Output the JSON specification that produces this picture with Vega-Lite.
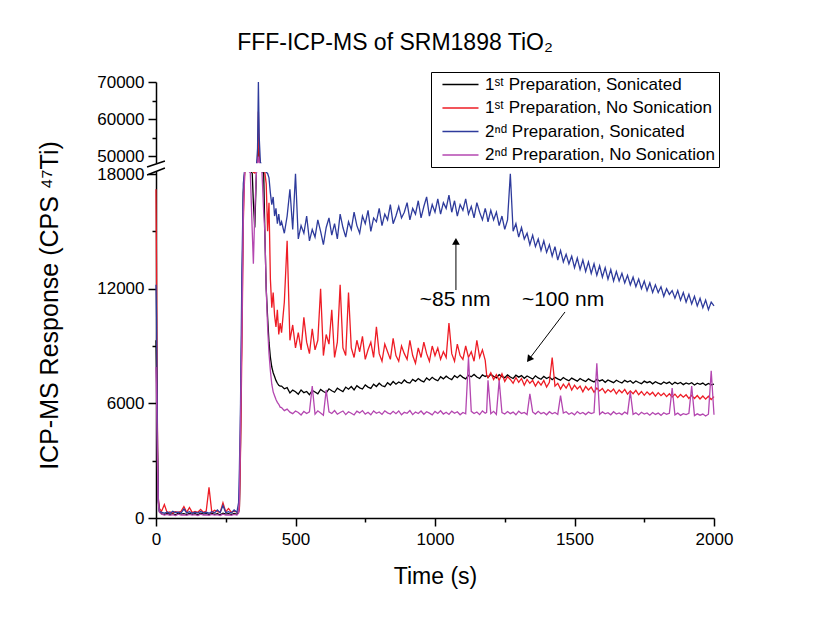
{
"$schema": "https://vega.github.io/schema/vega-lite/v6.json",
"autosize": "none",
"width": 558,
"height": 436,
"padding": {"left": 156, "top": 82, "right": 101, "bottom": 99},
"background": "white",
"config": {
 "view": {"stroke": null},
 "font": "Liberation Sans",
 "axis": {"domainColor": "#000", "domainWidth": 1.5, "tickColor": "#000", "tickWidth": 1.5, "labelColor": "#000", "labelFontSize": 17, "labelFont": "Liberation Sans", "titleFont": "Liberation Sans", "titleFontSize": 23, "titleFontWeight": "normal", "titleColor": "#000", "grid": false}
},
"title": {"text": "FFF-ICP-MS of SRM1898 TiO₂", "fontSize": 23, "font": "Liberation Sans", "fontWeight": "normal", "color": "#000", "anchor": "middle", "dx": -40, "offset": 17},
"layer": [
 {
 "data": {"values": [
{"t":0,"k":9300,"r":17200,"b":12200,"m":7900},
{"t":2,"k":7500,"r":13000,"b":10500,"m":6500},
{"t":5,"k":3500,"r":5000,"b":4500,"m":3000},
{"t":8,"k":900,"r":1100,"b":1000,"m":800},
{"t":12,"k":350,"r":500,"b":350,"m":300},
{"t":20,"k":220,"r":350,"b":300,"m":200},
{"t":30,"k":180,"r":700,"b":250,"m":150},
{"t":40,"k":240,"r":280,"b":320,"m":190},
{"t":50,"k":190,"r":320,"b":240,"m":140},
{"t":60,"k":230,"r":260,"b":350,"m":180},
{"t":70,"k":170,"r":330,"b":280,"m":130},
{"t":80,"k":250,"r":290,"b":310,"m":200},
{"t":90,"k":200,"r":350,"b":260,"m":150},
{"t":100,"k":230,"r":600,"b":480,"m":170},
{"t":110,"k":180,"r":300,"b":270,"m":140},
{"t":120,"k":240,"r":550,"b":330,"m":190},
{"t":130,"k":190,"r":280,"b":250,"m":150},
{"t":140,"k":220,"r":340,"b":310,"m":180},
{"t":150,"k":170,"r":300,"b":260,"m":130},
{"t":160,"k":250,"r":450,"b":340,"m":200},
{"t":170,"k":200,"r":290,"b":270,"m":150},
{"t":180,"k":230,"r":360,"b":300,"m":170},
{"t":190,"k":180,"r":1600,"b":250,"m":140},
{"t":200,"k":240,"r":300,"b":330,"m":190},
{"t":210,"k":190,"r":400,"b":270,"m":150},
{"t":220,"k":220,"r":330,"b":420,"m":180},
{"t":230,"k":170,"r":290,"b":280,"m":130},
{"t":240,"k":250,"r":800,"b":650,"m":200},
{"t":250,"k":200,"r":320,"b":280,"m":150},
{"t":260,"k":230,"r":500,"b":330,"m":170},
{"t":270,"k":180,"r":300,"b":260,"m":140},
{"t":280,"k":240,"r":360,"b":420,"m":190},
{"t":290,"k":190,"r":320,"b":300,"m":150},
{"t":296,"k":300,"r":320,"b":800,"m":260},
{"t":299,"k":600,"r":500,"b":2600,"m":900},
{"t":303,"k":4000,"r":3500,"b":6000,"m":5000},
{"t":308,"k":11000,"r":9000,"b":13000,"m":10000},
{"t":313,"k":17000,"r":15500,"b":17500,"m":16000},
{"t":318,"k":24000,"r":22000,"b":26000,"m":24000},
{"t":328,"k":28000,"r":26000,"b":29000,"m":25000},
{"t":338,"k":25000,"r":27000,"b":28000,"m":20000},
{"t":345,"k":19000,"r":24000,"b":26000,"m":15000},
{"t":349,"k":16500,"r":21000,"b":24000,"m":13300},
{"t":354,"k":15200,"r":19500,"b":23000,"m":16000},
{"t":360,"k":22000,"r":26000,"b":30000,"m":21000},
{"t":364,"k":40000,"r":45000,"b":52000,"m":35000},
{"t":367,"k":56000,"r":62000,"b":70000,"m":49000},
{"t":370,"k":45000,"r":50000,"b":55000,"m":40000},
{"t":374,"k":30000,"r":35000,"b":40000,"m":28000},
{"t":380,"k":24000,"r":28000,"b":30000,"m":20000},
{"t":386,"k":19000,"r":24000,"b":26000,"m":16000},
{"t":390,"k":15000,"r":21000,"b":24000,"m":15000},
{"t":395,"k":12000,"r":17500,"b":21000,"m":12000},
{"t":400,"k":10500,"r":15000,"b":19000,"m":10000},
{"t":405,"k":9200,"r":16500,"b":17800,"m":8600},
{"t":410,"k":8400,"r":12500,"b":17000,"m":7700},
{"t":415,"k":7900,"r":11000,"b":16400,"m":7000},
{"t":420,"k":7600,"r":11800,"b":16800,"m":6600},
{"t":425,"k":7400,"r":10600,"b":15800,"m":6400},
{"t":430,"k":7200,"r":10000,"b":16200,"m":6200},
{"t":435,"k":7050,"r":10900,"b":15400,"m":6050},
{"t":440,"k":6950,"r":9600,"b":15900,"m":5950},
{"t":445,"k":6900,"r":10200,"b":15300,"m":5800},
{"t":450,"k":6900,"r":9700,"b":15500,"m":5780},
{"t":460,"k":6760,"r":11300,"b":14900,"m":5620},
{"t":470,"k":6820,"r":14500,"b":15800,"m":5700},
{"t":480,"k":6540,"r":9300,"b":17200,"m":5540},
{"t":490,"k":6690,"r":10100,"b":15100,"m":5460},
{"t":500,"k":6610,"r":8900,"b":18400,"m":5600},
{"t":510,"k":6480,"r":9700,"b":14600,"m":5520},
{"t":520,"k":6700,"r":8800,"b":15300,"m":5390},
{"t":530,"k":6560,"r":10500,"b":14900,"m":5580},
{"t":540,"k":6620,"r":9200,"b":15800,"m":5470},
{"t":550,"k":6450,"r":8600,"b":14500,"m":5550},
{"t":560,"k":6680,"r":9900,"b":15100,"m":6900},
{"t":570,"k":6590,"r":8800,"b":14700,"m":5430},
{"t":580,"k":6500,"r":9300,"b":15600,"m":5610},
{"t":590,"k":6730,"r":12000,"b":15000,"m":5500},
{"t":600,"k":6620,"r":8500,"b":14300,"m":5380},
{"t":610,"k":6540,"r":9600,"b":15200,"m":6700},
{"t":620,"k":6760,"r":9100,"b":15700,"m":5560},
{"t":630,"k":6660,"r":10900,"b":14800,"m":5470},
{"t":640,"k":6580,"r":8400,"b":15400,"m":5620},
{"t":650,"k":6790,"r":9200,"b":14600,"m":5430},
{"t":660,"k":6700,"r":12200,"b":15900,"m":5520},
{"t":670,"k":6610,"r":8900,"b":15200,"m":5600},
{"t":680,"k":6850,"r":8500,"b":14700,"m":5410},
{"t":690,"k":6740,"r":11800,"b":15500,"m":5560},
{"t":700,"k":6880,"r":8900,"b":15100,"m":5480},
{"t":710,"k":6700,"r":8400,"b":16000,"m":5390},
{"t":720,"k":6920,"r":9300,"b":15300,"m":5590},
{"t":730,"k":6810,"r":8700,"b":14900,"m":5500},
{"t":740,"k":6750,"r":9500,"b":15800,"m":5620},
{"t":750,"k":6960,"r":8300,"b":15400,"m":5440},
{"t":760,"k":6850,"r":8800,"b":16100,"m":5530},
{"t":770,"k":6780,"r":9200,"b":15000,"m":5400},
{"t":780,"k":7000,"r":8400,"b":15700,"m":5600},
{"t":790,"k":6880,"r":10000,"b":15500,"m":5480},
{"t":800,"k":7050,"r":8600,"b":16200,"m":5550},
{"t":810,"k":6920,"r":8200,"b":15300,"m":5420},
{"t":820,"k":6870,"r":9100,"b":15900,"m":5610},
{"t":830,"k":7080,"r":8700,"b":15600,"m":5500},
{"t":840,"k":6960,"r":8300,"b":16400,"m":5440},
{"t":850,"k":7140,"r":9400,"b":15400,"m":5580},
{"t":860,"k":7000,"r":8500,"b":15800,"m":5460},
{"t":870,"k":7120,"r":8200,"b":16300,"m":5600},
{"t":880,"k":7040,"r":9000,"b":15700,"m":5400},
{"t":890,"k":7220,"r":8600,"b":16000,"m":5530},
{"t":900,"k":7100,"r":8300,"b":16500,"m":5480},
{"t":910,"k":7060,"r":9300,"b":15600,"m":5620},
{"t":920,"k":7250,"r":8500,"b":16200,"m":5410},
{"t":930,"k":7150,"r":8100,"b":15900,"m":5550},
{"t":940,"k":7300,"r":8900,"b":16600,"m":5470},
{"t":950,"k":7190,"r":8400,"b":15700,"m":5600},
{"t":960,"k":7120,"r":9200,"b":16300,"m":5430},
{"t":970,"k":7330,"r":8600,"b":16800,"m":5560},
{"t":980,"k":7210,"r":8200,"b":15800,"m":5490},
{"t":990,"k":7360,"r":9000,"b":16400,"m":5400},
{"t":1000,"k":7250,"r":8500,"b":16000,"m":5580},
{"t":1010,"k":7180,"r":8900,"b":16700,"m":5470},
{"t":1020,"k":7390,"r":8300,"b":15900,"m":5610},
{"t":1030,"k":7280,"r":8700,"b":16500,"m":5440},
{"t":1040,"k":7420,"r":8400,"b":16200,"m":5530},
{"t":1050,"k":7310,"r":10200,"b":16900,"m":5420},
{"t":1060,"k":7240,"r":8600,"b":16000,"m":5590},
{"t":1070,"k":7450,"r":8200,"b":16600,"m":5480},
{"t":1080,"k":7340,"r":9100,"b":15800,"m":5560},
{"t":1090,"k":7480,"r":8500,"b":16400,"m":5400},
{"t":1100,"k":7360,"r":8300,"b":16100,"m":5520},
{"t":1110,"k":7280,"r":9000,"b":16700,"m":5450},
{"t":1120,"k":7470,"r":8400,"b":15900,"m":8400},
{"t":1130,"k":7390,"r":8700,"b":16300,"m":5580},
{"t":1140,"k":7510,"r":8200,"b":15700,"m":5470},
{"t":1150,"k":7380,"r":9300,"b":16500,"m":5550},
{"t":1160,"k":7300,"r":8400,"b":16000,"m":5410},
{"t":1170,"k":7490,"r":8800,"b":15600,"m":5600},
{"t":1180,"k":7400,"r":8250,"b":16200,"m":5480},
{"t":1185,"k":7460,"r":7500,"b":15900,"m":5530},
{"t":1190,"k":7350,"r":7350,"b":15500,"m":7200},
{"t":1200,"k":7520,"r":7600,"b":16100,"m":5460},
{"t":1210,"k":7420,"r":7250,"b":15600,"m":5580},
{"t":1220,"k":7330,"r":7500,"b":16000,"m":5420},
{"t":1230,"k":7500,"r":7200,"b":15300,"m":7200},
{"t":1240,"k":7400,"r":7550,"b":15800,"m":5510},
{"t":1250,"k":7340,"r":7150,"b":15100,"m":5440},
{"t":1260,"k":7490,"r":7400,"b":15600,"m":5570},
{"t":1270,"k":7380,"r":7250,"b":18300,"m":5460},
{"t":1280,"k":7300,"r":7050,"b":15000,"m":5540},
{"t":1290,"k":7470,"r":7350,"b":15400,"m":5400},
{"t":1300,"k":7370,"r":7100,"b":14700,"m":5590},
{"t":1310,"k":7450,"r":7300,"b":15200,"m":5470},
{"t":1320,"k":7310,"r":6950,"b":14600,"m":5520},
{"t":1330,"k":7430,"r":7250,"b":14900,"m":5410},
{"t":1340,"k":7350,"r":7050,"b":14300,"m":6500},
{"t":1350,"k":7270,"r":7200,"b":14800,"m":5550},
{"t":1360,"k":7440,"r":6900,"b":14200,"m":5440},
{"t":1370,"k":7330,"r":7150,"b":14600,"m":5580},
{"t":1380,"k":7260,"r":6950,"b":14000,"m":5460},
{"t":1390,"k":7410,"r":7200,"b":14500,"m":5520},
{"t":1400,"k":7300,"r":6850,"b":13900,"m":5400},
{"t":1410,"k":7380,"r":7100,"b":14300,"m":5560},
{"t":1420,"k":7240,"r":8400,"b":13700,"m":5450},
{"t":1430,"k":7360,"r":6900,"b":14200,"m":5520},
{"t":1440,"k":7280,"r":7050,"b":13500,"m":5420},
{"t":1450,"k":7210,"r":6750,"b":14000,"m":6400},
{"t":1460,"k":7350,"r":7000,"b":13400,"m":5490},
{"t":1470,"k":7250,"r":6800,"b":13800,"m":5560},
{"t":1480,"k":7180,"r":7050,"b":13300,"m":5430},
{"t":1490,"k":7320,"r":6700,"b":13700,"m":5510},
{"t":1500,"k":7240,"r":6950,"b":13100,"m":5400},
{"t":1510,"k":7160,"r":6750,"b":13600,"m":5570},
{"t":1520,"k":7300,"r":6900,"b":13000,"m":5450},
{"t":1530,"k":7210,"r":6600,"b":13500,"m":5520},
{"t":1540,"k":7140,"r":6880,"b":12900,"m":5410},
{"t":1550,"k":7280,"r":6700,"b":13400,"m":5540},
{"t":1560,"k":7190,"r":6850,"b":12800,"m":5460},
{"t":1570,"k":7120,"r":6580,"b":13300,"m":5520},
{"t":1580,"k":7260,"r":6800,"b":12700,"m":8100},
{"t":1590,"k":7170,"r":6650,"b":13200,"m":5420},
{"t":1600,"k":7230,"r":6780,"b":12600,"m":5550},
{"t":1610,"k":7100,"r":6550,"b":13100,"m":5450},
{"t":1620,"k":7220,"r":6720,"b":12500,"m":5510},
{"t":1630,"k":7150,"r":6600,"b":13000,"m":5400},
{"t":1640,"k":7080,"r":6750,"b":12400,"m":5560},
{"t":1650,"k":7210,"r":6500,"b":12900,"m":5440},
{"t":1660,"k":7130,"r":6700,"b":12400,"m":5500},
{"t":1670,"k":7060,"r":6550,"b":12800,"m":5410},
{"t":1680,"k":7200,"r":6730,"b":12300,"m":5540},
{"t":1690,"k":7110,"r":6480,"b":12700,"m":5450},
{"t":1700,"k":7180,"r":6650,"b":12200,"m":6600},
{"t":1710,"k":7050,"r":6500,"b":12600,"m":5420},
{"t":1720,"k":7170,"r":6680,"b":12100,"m":5510},
{"t":1730,"k":7090,"r":6450,"b":12500,"m":5390},
{"t":1740,"k":7030,"r":6620,"b":12000,"m":5530},
{"t":1750,"k":7160,"r":6420,"b":12400,"m":5440},
{"t":1760,"k":7080,"r":6600,"b":11900,"m":5500},
{"t":1770,"k":7140,"r":6450,"b":12300,"m":5380},
{"t":1780,"k":7020,"r":6580,"b":11800,"m":5520},
{"t":1790,"k":7130,"r":6380,"b":12200,"m":5420},
{"t":1800,"k":7060,"r":6560,"b":11800,"m":5490},
{"t":1810,"k":7000,"r":6400,"b":12100,"m":5370},
{"t":1820,"k":7120,"r":6530,"b":11600,"m":5510},
{"t":1830,"k":7040,"r":6350,"b":12000,"m":5430},
{"t":1840,"k":7110,"r":6500,"b":11700,"m":5480},
{"t":1850,"k":6990,"r":6330,"b":11900,"m":6800},
{"t":1860,"k":7100,"r":6480,"b":11500,"m":5400},
{"t":1870,"k":7020,"r":6300,"b":11900,"m":5490},
{"t":1880,"k":7090,"r":6460,"b":11400,"m":5370},
{"t":1890,"k":6980,"r":6320,"b":11800,"m":5460},
{"t":1900,"k":7070,"r":6450,"b":11300,"m":5410},
{"t":1910,"k":7010,"r":6260,"b":11700,"m":5480},
{"t":1920,"k":7080,"r":6420,"b":11200,"m":6900},
{"t":1930,"k":6960,"r":6250,"b":11600,"m":5360},
{"t":1940,"k":7050,"r":6410,"b":11100,"m":5450},
{"t":1950,"k":6990,"r":6230,"b":11500,"m":5380},
{"t":1960,"k":7060,"r":6380,"b":11000,"m":5440},
{"t":1970,"k":6950,"r":6220,"b":11400,"m":5340},
{"t":1980,"k":7040,"r":6370,"b":10900,"m":5430},
{"t":1990,"k":6970,"r":6200,"b":11300,"m":7700},
{"t":2000,"k":7010,"r":6350,"b":11100,"m":5400}
 ]},
 "transform": [{"fold": ["k", "r", "b", "m"], "as": ["s", "v"]}],
 "mark": {"type": "line", "strokeWidth": 1.3},
 "encoding": {
  "x": {"field": "t", "type": "quantitative",
   "scale": {"domain": [0, 2000], "nice": false, "zero": false},
   "axis": {"values": [0,250,500,750,1000,1250,1500,1750,2000], "tickCount": 20, "format": "d",
    "labelExpr": "datum.value % 500 == 0 ? datum.label : ''",
    "tickSize": {"condition": {"test": "datum.value % 500 == 0", "value": 8}, "value": 4},
    "labelPadding": 5, "labelFlush": false, "labelOverlap": false,
    "title": "Time (s)", "titleY": 65, "titleBaseline": "alphabetic"}},
  "y": {"field": "v", "type": "quantitative",
   "scale": {"domain": [0, 18000, 50000, 70000], "range": [436, 92, 74, 0], "nice": false, "zero": false},
   "axis": {"values": [0,3000,6000,9000,12000,15000,18000,50000,55000,60000,65000,70000], "tickCount": 30, "format": "d",
    "labelExpr": "(datum.value <= 18000 && datum.value % 6000 == 0) || (datum.value >= 50000 && datum.value % 10000 == 0) ? datum.label : ''",
    "tickSize": {"condition": {"test": "(datum.value <= 18000 && datum.value % 6000 == 0) || (datum.value >= 50000 && datum.value % 10000 == 0)", "value": 8}, "value": 4},
    "labelPadding": 4, "labelOverlap": false,
    "title": "ICP-MS Response (CPS ⁴⁷Ti)", "titleX": -99, "titleY": 223, "titleAlign": "center", "titleBaseline": "alphabetic", "titleAngle": -90, "titleFontSize": 25}},
  "color": {"field": "s", "type": "nominal",
   "scale": {"domain": ["k", "r", "b", "m"], "range": ["#000000", "#ee1c25", "#2e3b9c", "#b447b0"]},
   "legend": {"orient": "none", "legendX": 275, "legendY": -10, "title": null,
    "strokeColor": "#000", "fillColor": "white", "padding": 4,
    "symbolType": "M-0.15,0H5", "symbolSize": 196, "symbolStrokeWidth": 1.5,
    "labelFontSize": 17, "labelFont": "Liberation Sans", "labelColor": "#000", "labelOffset": 33, "rowPadding": 5.5, "labelLimit": 400,
    "labelExpr": "datum.label == 'k' ? '1ˢᵗ Preparation, Sonicated' : datum.label == 'r' ? '1ˢᵗ Preparation, No Sonication' : datum.label == 'b' ? '2ⁿᵈ Preparation, Sonicated' : '2ⁿᵈ Preparation, No Sonication'"}}
 }
 },
 {
 "data": {"values": [{}]},
 "mark": {"type": "rect", "color": "white"},
 "encoding": {"x": {"datum": -40}, "x2": {"datum": 2060}, "y": {"datum": 21500}, "y2": {"datum": 37000}}
 },
 {
 "data": {"values": [{"x": -32, "y": 30444, "x2": 32, "y2": 41111}, {"x": -32, "y": 17950, "x2": 32, "y2": 28667}]},
 "mark": {"type": "rule", "color": "#000", "strokeWidth": 1.5},
 "encoding": {"x": {"field": "x", "type": "quantitative"}, "x2": {"field": "x2"}, "y": {"field": "y", "type": "quantitative"}, "y2": {"field": "y2"}}
 },
 {
 "data": {"values": [{"x": 1075, "y": 11930, "x2": 1075, "y2": 14475}, {"x": 1466, "y": 10780, "x2": 1337, "y2": 8305}]},
 "mark": {"type": "rule", "color": "#000", "strokeWidth": 1},
 "encoding": {"x": {"field": "x", "type": "quantitative"}, "x2": {"field": "x2"}, "y": {"field": "y", "type": "quantitative"}, "y2": {"field": "y2"}}
 },
 {
 "data": {"values": [{"x": 1075, "y": 14475}]},
 "mark": {"type": "point", "shape": "triangle-up", "filled": true, "color": "#000", "size": 60, "opacity": 1},
 "encoding": {"x": {"field": "x", "type": "quantitative"}, "y": {"field": "y", "type": "quantitative"}}
 },
 {
 "data": {"values": [{"x": 1337, "y": 8305}]},
 "mark": {"type": "point", "shape": "triangle-up", "filled": true, "color": "#000", "size": 60, "opacity": 1, "angle": 217},
 "encoding": {"x": {"field": "x", "type": "quantitative"}, "y": {"field": "y", "type": "quantitative"}}
 },
 {
 "data": {"values": [{"x": 1072, "y": 11410, "label": "~85 nm"}, {"x": 1459, "y": 11410, "label": "~100 nm"}]},
 "mark": {"type": "text", "fontSize": 21, "font": "Liberation Sans", "color": "#000", "baseline": "middle", "align": "center"},
 "encoding": {"x": {"field": "x", "type": "quantitative"}, "y": {"field": "y", "type": "quantitative"}, "text": {"field": "label"}}
 }
]
}
